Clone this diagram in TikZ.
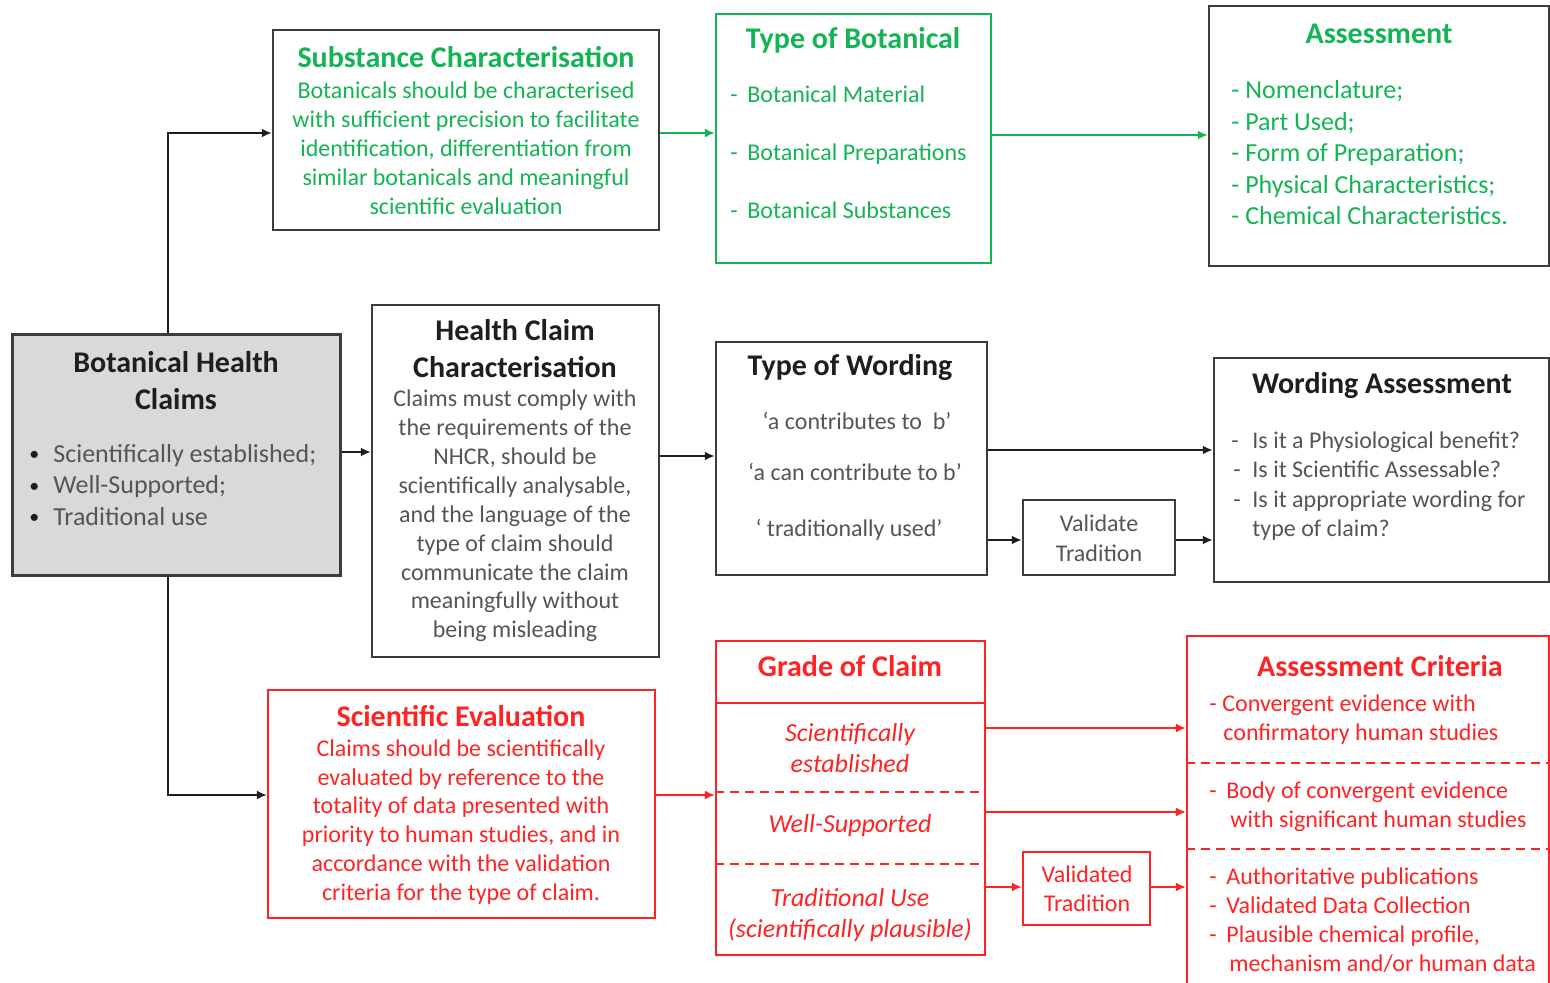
\documentclass[tikz,border=0pt]{standalone}
\usepackage{fontspec}
\setmainfont{Carlito}
\usetikzlibrary{arrows.meta}
\definecolor{grn}{RGB}{20,180,85}
\definecolor{rd}{RGB}{255,35,35}
\definecolor{dg}{RGB}{60,60,60}
\definecolor{txg}{RGB}{85,85,85}
\definecolor{ttl}{RGB}{30,30,30}
\definecolor{bhcfill}{RGB}{217,217,217}
\newcommand\ttlfont{\fontsize{15}{18.5}\selectfont\bfseries}
\newcommand\bodyfont{\fontsize{12}{14.45}\selectfont}
\newcommand\midfont{\fontsize{13}{15.8}\selectfont}
\newcommand\dsh[1]{\makebox[#1][l]{-}}
\newcommand\smbul{\makebox[12pt][l]{\raisebox{0.15ex}{\fontsize{10}{10}\selectfont\color{ttl}\textbullet}}}
\tikzset{
  box/.style={draw=dg, line width=1.2pt, inner sep=0pt},
  gbox/.style={draw=grn, line width=1.1pt, inner sep=0pt},
  rbox/.style={draw=rd, line width=1.1pt, inner sep=0pt},
  txt/.style={inner sep=0pt, anchor=center, align=center},
  ltxt/.style={inner sep=0pt, anchor=west, align=left},
  arr/.style={line width=1pt, draw=ttl, -{Latex[length=5pt,width=4.5pt]}},
  garr/.style={line width=1pt, draw=grn, -{Latex[length=5pt,width=4.5pt]}},
  rarr/.style={line width=1pt, draw=rd, -{Latex[length=5pt,width=4.5pt]}},
}
\begin{document}
\begin{tikzpicture}[x=0.5pt,y=-0.5pt]
\useasboundingbox (0,0) rectangle (1550,983);
\fill[white] (0,0) rectangle (1550,983);

% boxes
\node[box, line width=1.5pt, fill=bhcfill, minimum width=164pt, minimum height=120pt] (bhc) at (176,455) {};
\node[box, minimum width=193pt, minimum height=100pt] (subst) at (466,130) {};
\node[gbox, minimum width=137.5pt, minimum height=124.5pt] (tob) at (853.5,138.5) {};
\node[box, minimum width=170pt, minimum height=130pt] (assess) at (1379,136) {};
\node[box, minimum width=143.5pt, minimum height=176pt] (hcc) at (515.5,481) {};
\node[box, minimum width=135.5pt, minimum height=116.5pt] (tow) at (851.5,458.5) {};
\node[box, minimum width=76pt, minimum height=37.5pt] (vt) at (1099,537.5) {};
\node[box, minimum width=167.5pt, minimum height=112pt] (wa) at (1381.5,470) {};
\node[rbox, minimum width=193.5pt, minimum height=114pt] (se) at (461.5,804) {};
\node[rbox, minimum width=134.5pt, minimum height=157pt] (goc) at (850.5,798) {};
\node[rbox, minimum width=63.5pt, minimum height=36.5pt] (valt) at (1086.5,888.5) {};
\node[rbox, minimum width=181pt, minimum height=177pt] (ac) at (1368,813) {};

% separators
\coordinate (s703) at (0,703);
\coordinate (s792) at (0,792);
\coordinate (s864) at (0,864);
\coordinate (s763) at (0,763);
\coordinate (s849) at (0,849);
\draw[rd, line width=1.1pt] (goc.west |- s703) -- (goc.east |- s703);
\draw[rd, line width=1.1pt, dash pattern=on 4.5pt off 3pt] (goc.west |- s792) -- (goc.east |- s792);
\draw[rd, line width=1.1pt, dash pattern=on 4.5pt off 3pt] (goc.west |- s864) -- (goc.east |- s864);
\draw[rd, line width=1.1pt, dash pattern=on 4.5pt off 3pt] (ac.west |- s763) -- (ac.east |- s763);
\draw[rd, line width=1.1pt, dash pattern=on 4.5pt off 3pt] (ac.west |- s849) -- (ac.east |- s849);

% texts
\node[txt, text=ttl, font=\ttlfont] (t1) at (176,381) {Botanical Health\\Claims};
\node[ltxt, text=txg, font=\midfont] (t2) at (29,485) {\smbul Scientifically established;\\\smbul Well-Supported;\\\smbul Traditional use};

\node[txt, text=grn, font=\ttlfont] (t3) at (466,57) {Substance Characterisation};
\node[txt, text=grn, font=\bodyfont] (t4) at (466,148) {Botanicals should be characterised\\with sufficient precision to facilitate\\identification, differentiation from\\similar botanicals and meaningful\\scientific evaluation};

\node[txt, text=grn, font=\ttlfont] (t5) at (853,40) {Type of Botanical};
\node[ltxt, text=grn, font=\fontsize{12}{29}\selectfont] (t6) at (730,152) {\dsh{8.5pt}Botanical Material\\\dsh{8.5pt}Botanical Preparations\\\dsh{8.5pt}Botanical Substances};

\node[txt, text=grn, font=\ttlfont] (t7) at (1379,34) {Assessment};
\node[ltxt, text=grn, font=\fontsize{13}{15.75}\selectfont] (t8) at (1231,153) {- Nomenclature;\\- Part Used;\\- Form of Preparation;\\- Physical Characteristics;\\- Chemical Characteristics.};

\node[txt, text=ttl, font=\ttlfont] (t9) at (515,349) {Health Claim\\Characterisation};
\node[txt, text=txg, font=\bodyfont] (t10) at (515,516) {Claims must comply with\\the requirements of the\\NHCR, should be\\scientifically analysable,\\and the language of the\\type of claim should\\communicate the claim\\meaningfully without\\being misleading};

\node[txt, text=ttl, font=\ttlfont] (t11) at (850,368) {Type of Wording};
\node[txt, text=txg, font=\bodyfont] (t12) at (857,421) {‘a contributes to\ \ b’};
\node[txt, text=txg, font=\bodyfont] (t13) at (855,472) {‘a can contribute to b’};
\node[txt, text=txg, font=\bodyfont] (t14) at (849,530) {‘ traditionally used’};

\node[txt, text=txg, font=\fontsize{12}{15}\selectfont] (t15) at (1099,538) {Validate\\Tradition};

\node[txt, text=ttl, font=\ttlfont] (t16) at (1382,386) {Wording Assessment};
\node[ltxt, text=txg, font=\fontsize{12}{14.75}\selectfont] (t17) at (1231,486) {\dsh{10.5pt}Is it a Physiological benefit?\\\hspace{1pt}\dsh{9.5pt}Is it Scientific Assessable?\\\hspace{1pt}\dsh{9.5pt}Is it appropriate wording for\\\hspace{10.5pt}type of claim?};

\node[txt, text=rd, font=\ttlfont] (t18) at (461,716) {Scientific Evaluation};
\node[txt, text=rd, font=\bodyfont] (t19) at (461,822) {Claims should be scientifically\\evaluated by reference to the\\totality of data presented with\\priority to human studies, and in\\accordance with the validation\\criteria for the type of claim.};

\node[txt, text=rd, font=\ttlfont] (t20) at (850,666) {Grade of Claim};
\node[txt, text=rd, font=\midfont\itshape] (t21) at (850,748) {Scientifically\\established};
\node[txt, text=rd, font=\midfont\itshape] (t22) at (850,826) {Well-Supported};
\node[txt, text=rd, font=\midfont\itshape] (t23) at (850,915) {Traditional Use\\(scientifically plausible)};

\node[txt, text=rd, font=\fontsize{12}{14.5}\selectfont] (t24) at (1087,889) {Validated\\Tradition};

\node[txt, text=rd, font=\ttlfont] (t25) at (1380,666) {Assessment Criteria};
\node[ltxt, text=rd, font=\bodyfont] (t26) at (1209,720) {\dsh{6.5pt}Convergent evidence with\\\hspace{7pt}confirmatory human studies};
\node[ltxt, text=rd, font=\bodyfont] (t27) at (1209,807) {\dsh{8.5pt}Body of convergent evidence\\\hspace{10.5pt}with significant human studies};
\node[ltxt, text=rd, font=\bodyfont] (t28) at (1209,920) {\dsh{8.5pt}Authoritative publications\\\dsh{8.5pt}Validated Data Collection\\\dsh{8.5pt}Plausible chemical profile,\\\hspace{10pt}mechanism and/or human data};

% connector coordinates
\coordinate (c1) at (168,133);
\coordinate (c2) at (168,795);
\coordinate (y452) at (0,452);
\coordinate (y133) at (0,133);
\coordinate (y135) at (0,135);
\coordinate (y456) at (0,456);
\coordinate (y450) at (0,450);
\coordinate (y540) at (0,540);
\coordinate (y795) at (0,795);
\coordinate (y728) at (0,728);
\coordinate (y812) at (0,812);
\coordinate (y887) at (0,887);

\draw[arr] (bhc.north -| c1) -- (c1) -- (subst.west |- c1);
\draw[arr] (bhc.south -| c2) -- (c2) -- (se.west |- c2);
\draw[arr] (bhc.east |- y452) -- (hcc.west |- y452);
\draw[garr] (subst.east |- y133) -- (tob.west |- y133);
\draw[garr] (tob.east |- y135) -- (assess.west |- y135);
\draw[arr] (hcc.east |- y456) -- (tow.west |- y456);
\draw[arr] (tow.east |- y450) -- (wa.west |- y450);
\draw[arr] (tow.east |- y540) -- (vt.west |- y540);
\draw[arr] (vt.east |- y540) -- (wa.west |- y540);
\draw[rarr] (se.east |- y795) -- (goc.west |- y795);
\draw[rarr] (goc.east |- y728) -- (ac.west |- y728);
\draw[rarr] (goc.east |- y812) -- (ac.west |- y812);
\draw[rarr] (goc.east |- y887) -- (valt.west |- y887);
\draw[rarr] (valt.east |- y887) -- (ac.west |- y887);
\end{tikzpicture}
\end{document}
